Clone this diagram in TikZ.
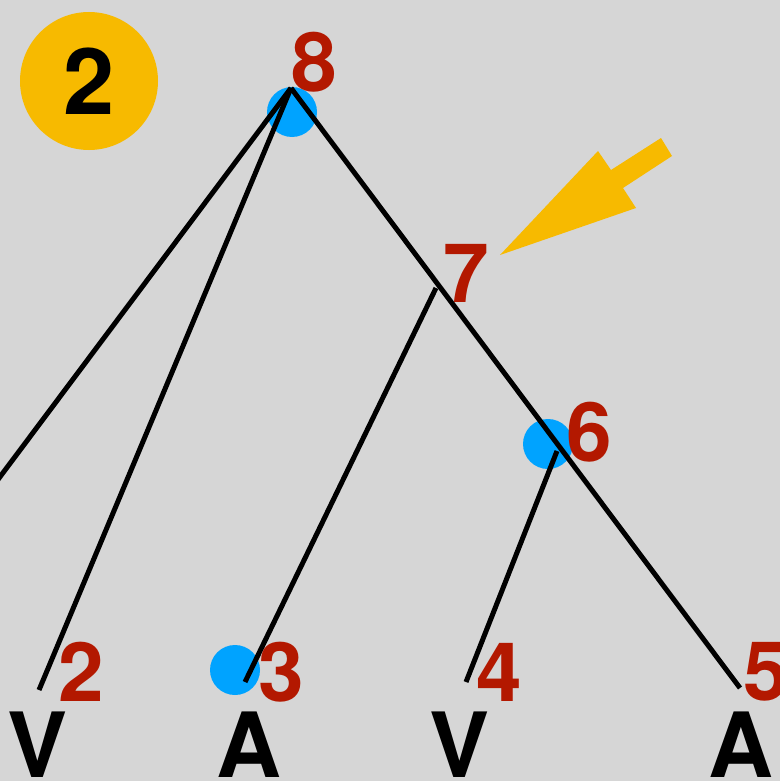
\documentclass[tikz,border=0pt]{standalone}
\usepackage{fontspec}
\setmainfont{TeX Gyre Heros}
\usetikzlibrary{positioning}

\definecolor{paper}{HTML}{D6D6D6}
\definecolor{numred}{HTML}{B31800}
\definecolor{dotblue}{HTML}{00A3FF}
\definecolor{badgeyellow}{HTML}{F7BA00}

\begin{document}
\begin{tikzpicture}[
    x=0.5pt, y=-0.5pt,
    branch/.style={line width=2.5pt},
    dot/.style={circle, fill=dotblue, minimum size=25pt, inner sep=0pt},
    num/.style={text=numred, inner sep=0pt, font=\fontsize{41}{41}\selectfont\bfseries},
    leaf/.style={inner sep=0pt, font=\fontsize{45}{45}\selectfont\bfseries},
    badge/.style={circle, fill=badgeyellow, minimum size=69pt, inner sep=0pt, font=\fontsize{46}{46}\selectfont\bfseries}
]

% Background and frame
\fill[paper] (0,0) rectangle (780,781);
\useasboundingbox (0,0) rectangle (780,781);
\clip (0,0) rectangle (780,781);

% Step badge
\node[badge] (stepno) at (89,81) {2};

% Tree junctions and leaf ends
\coordinate (n8) at (291,88);
\coordinate (n7) at (436,288);
\coordinate (n6) at (557,451);
\coordinate (l1) at (-60,557);
\coordinate (l2) at (39,690);
\coordinate (l3) at (245,682);
\coordinate (l4) at (466,682);
\coordinate (l5) at (740,688);

% Blue markers (under the branches)
\node[dot] (d8) at (292,112) {};
\node[dot] (d6) at (548,444) {};
\node[dot] (d3) at (235,670) {};

% Branches
\draw[branch] (n8) -- (l1);
\draw[branch] (n8) -- (l2);
\draw[branch] (n8) -- (l5);
\draw[branch] (n7) -- (l3);
\draw[branch] (n6) -- (l4);

% Node numbers
\node[num] (lab8) at (314,62) {8};
\node[num] (lab7) at (466,273) {7};
\node[num] (lab6) at (589,432) {6};
\node[num] (lab2) at (81,672) {2};
\node[num] (lab3) at (281,672) {3};
\node[num] (lab4) at (499,672) {4};
\node[num] (lab5) at (766,672) {5};

% Leaf letters
\node[leaf] (v1) at (38,745) {V};
\node[leaf] (a1) at (249,745) {A};
\node[leaf] (v2) at (460,745) {V};
\node[leaf] (a2) at (741,745) {A};

% Pointer arrow
\fill[badgeyellow] (500,255) -- (598,151) -- (611,170) -- (661,138)
    -- (672,156) -- (623,188) -- (636,208) -- cycle;

\end{tikzpicture}
\end{document}
